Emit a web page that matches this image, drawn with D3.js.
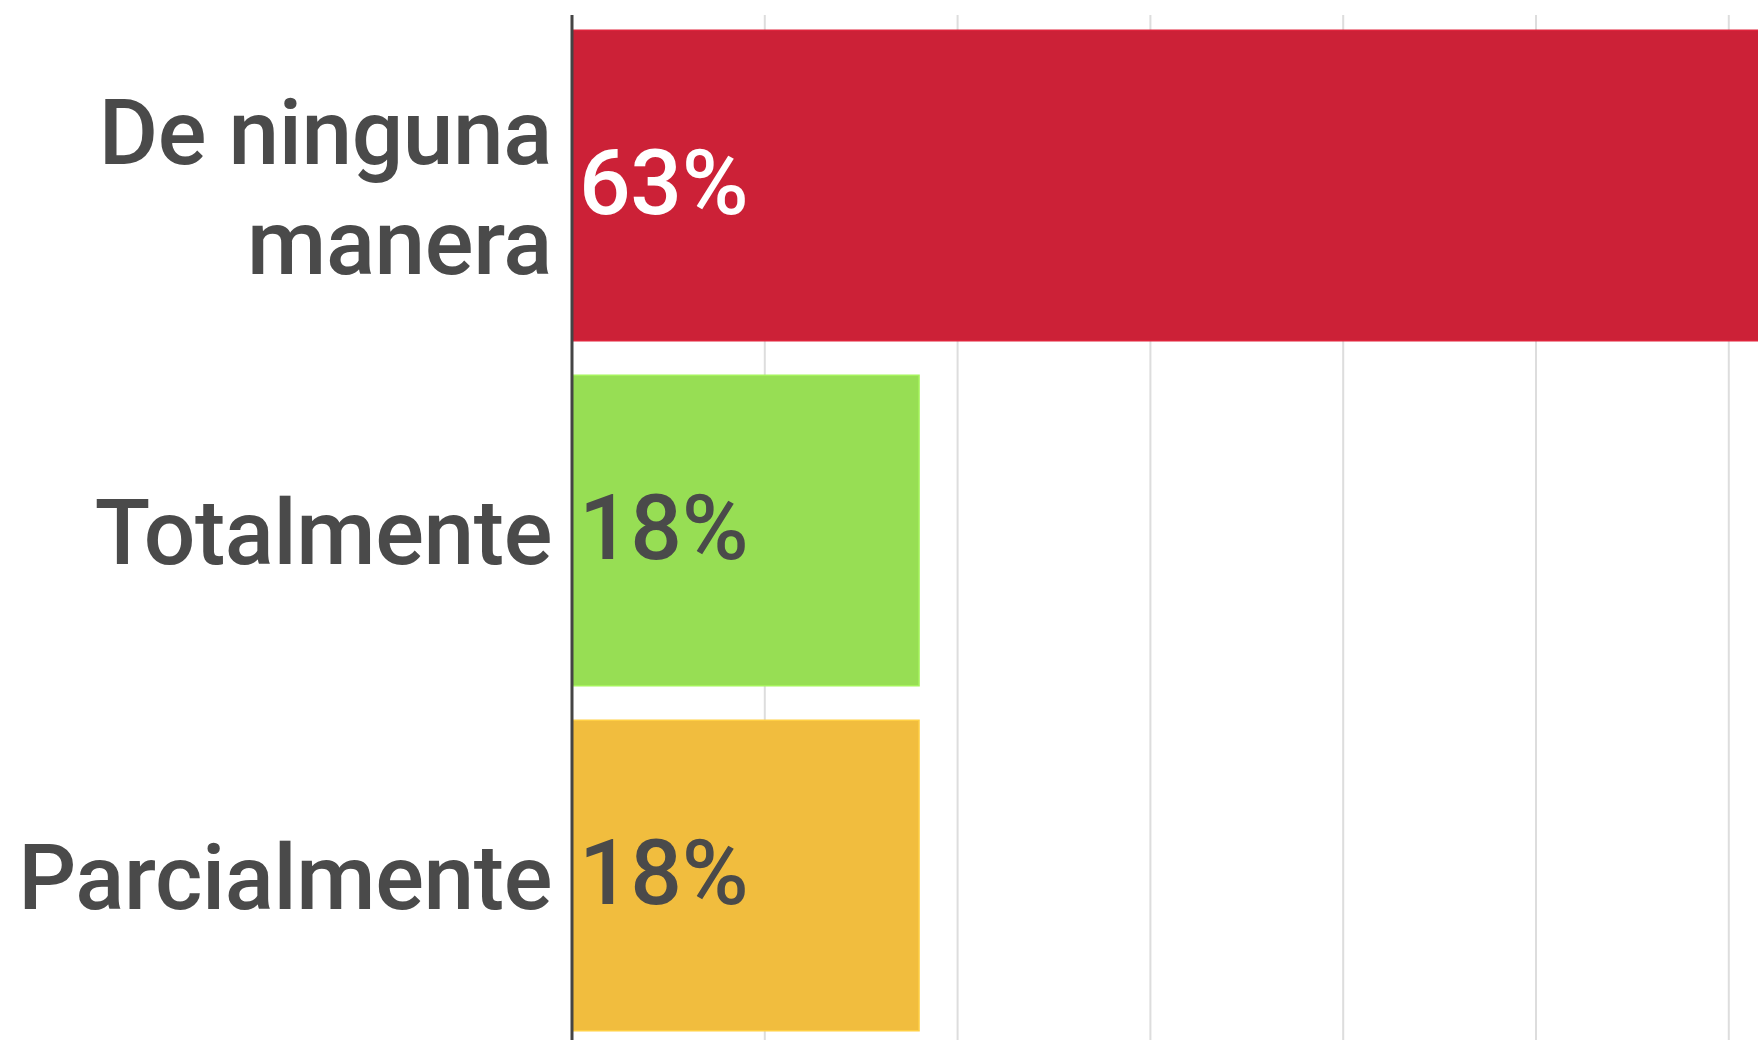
<!DOCTYPE html>
<html>
<head>
<meta charset="utf-8">
<script src="https://cdn.jsdelivr.net/npm/d3@7"></script>
<style>
  html, body { margin: 0; padding: 0; background: #ffffff; overflow: hidden; }
  svg { display: block; }
  text { font-family: Roboto, "Noto Sans", sans-serif; }
</style>
</head>
<body>
<svg id="chart" width="1758" height="1040"></svg>
<script>
// Survey answers and their shares (percent)
const categories = ["De ninguna manera", "Totalmente", "Parcialmente"];
const categoryLines = [["De ninguna", "manera"], ["Totalmente"], ["Parcialmente"]];
const values = [63, 18, 18];
const barColors = ["#cc2137", "#97de54", "#f1bd3e"];
const valueTextColors = ["#ffffff", "#4a4a4a", "#4a4a4a"];
const gridTicks = [10, 20, 30, 40, 50, 60, 70];

const width = 1758, height = 1040;
const margin = { left: 572, top: 13 };
const svg = d3.select("#chart");

const x = d3.scaleLinear().domain([0, 70]).range([margin.left, margin.left + 1349.6]);
const y = d3.scaleBand().domain(categories).range([margin.top, margin.top + 1035])
  .paddingInner(0.1).paddingOuter(0.05);

// vertical gridlines
svg.append("g").selectAll("line").data(gridTicks).join("line")
  .attr("x1", d => x(d)).attr("x2", d => x(d))
  .attr("y1", 15).attr("y2", height + 10)
  .attr("stroke", "#dddddd").attr("stroke-width", 2);

// bars
svg.append("g").selectAll("rect").data(categories).join("rect")
  .attr("x", x(0))
  .attr("y", d => y(d))
  .attr("width", (d, i) => x(values[i]) - x(0))
  .attr("height", y.bandwidth())
  .attr("fill", (d, i) => barColors[i])
  .attr("stroke", (d, i) => d3.color(barColors[i]).brighter(0.25))
  .attr("stroke-width", 1.5);

// value axis baseline
svg.append("line")
  .attr("x1", x(0)).attr("x2", x(0))
  .attr("y1", 15).attr("y2", height + 10)
  .attr("stroke", "#444444").attr("stroke-width", 3);

const fontSize = 91;
const lineH = 110;
const labelFont = sel => sel
  .attr("font-size", fontSize)
  .attr("font-weight", 500)
  .attr("letter-spacing", -0.4);

// category labels
const lab = svg.append("g").selectAll("text").data(categories).join("text")
  .attr("text-anchor", "end")
  .call(labelFont)
  .attr("fill", "#4a4a4a")
  .attr("transform", (d, i) => {
    const n = categoryLines[i].length;
    const cy = y(d) + y.bandwidth() / 2;
    const firstBase = cy + 33 - (n - 1) * lineH / 2;
    return `translate(${x(0) - 20},${firstBase})`;
  });
lab.selectAll("tspan").data((d, i) => categoryLines[i]).join("tspan")
  .attr("x", 0)
  .attr("dy", (d, j) => j === 0 ? 0 : lineH)
  .text(d => d);

// value labels
svg.append("g").selectAll("text").data(categories).join("text")
  .attr("x", x(0) + 7)
  .attr("y", d => y(d) + y.bandwidth() / 2 + 28)
  .call(labelFont)
  .attr("fill", (d, i) => valueTextColors[i])
  .text((d, i) => values[i] + "%");
</script>
</body>
</html>
